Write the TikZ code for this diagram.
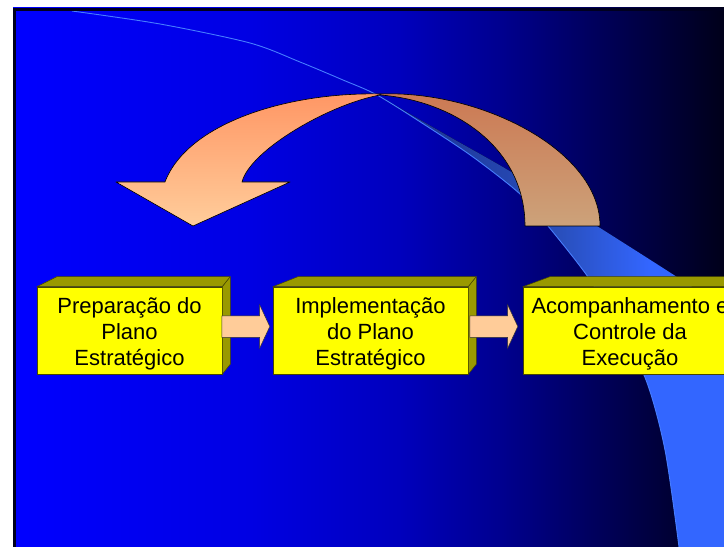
\documentclass[tikz,border=0pt]{standalone}
\usepackage{fontspec}
\setmainfont{Liberation Sans}
\usetikzlibrary{calc,shapes.arrows}

\definecolor{boxyellow}{RGB}{255,255,0}
\definecolor{boxolive}{RGB}{153,153,0}
\definecolor{boxedge}{RGB}{70,70,0}
\definecolor{peach}{RGB}{255,204,153}
\definecolor{orangetop}{RGB}{255,150,100}
\definecolor{orangebot}{RGB}{255,205,155}
\definecolor{browntop}{RGB}{204,120,82}
\definecolor{brownbot}{RGB}{204,162,122}
\definecolor{swooshline}{RGB}{70,125,255}
\definecolor{slideframe}{RGB}{0,0,30}

\pgfdeclarehorizontalshading{slidebg}{100bp}{rgb(0bp)=(0,0,1); rgb(25.2bp)=(0,0,1); rgb(41.7bp)=(0,0,0.89); rgb(52.2bp)=(0,0,0.74); rgb(59.3bp)=(0,0,0.56); rgb(66.3bp)=(0,0,0.35); rgb(75bp)=(0,0,0.1); rgb(100bp)=(0,0,0.1)}
\pgfdeclarehorizontalshading{swooshshade}{100bp}{rgb(0bp)=(0.1,0.18,0.55); rgb(25bp)=(0.1,0.18,0.55); rgb(49.9bp)=(0.16,0.31,0.74); rgb(62bp)=(0.2,0.4,1); rgb(100bp)=(0.2,0.4,1)}

\tikzset{
  boxface/.style={draw=boxedge, fill=boxyellow, line width=0.5bp, minimum height=87bp, inner sep=0pt},
  boxtext/.style={inner sep=0pt, font=\fontsize{22bp}{26bp}\selectfont, align=center, text=black},
  sideface/.style={draw=boxedge, fill=boxolive, line width=0.5bp, line join=round},
  blockarrow/.style={single arrow, draw=black!80, fill=peach, line width=0.5bp,
    minimum height=48bp, minimum width=43bp, inner xsep=0pt, inner ysep=10.5bp,
    single arrow head extend=11bp, single arrow tip angle=130},
  curvedarrow/.style={draw=black, line width=0.6bp, line join=round}
}

\begin{document}
\begin{tikzpicture}[x=1bp, y=-1bp]
\useasboundingbox (0,0) rectangle (724,547);

% slide background and swoosh
\begin{scope}
  \clip (13,8) rectangle (724,547);
  \fill[shading=slidebg] (13,8) rectangle (724,547);
  \fill[shading=swooshshade]
    plot[smooth] coordinates {(377,95) (425,125) (473,157) (520,194) (548,226) (588,277) (617,325) (646,380) (665,450) (679,547)}
    -- (745,547)
    -- plot[smooth] coordinates {(745,322) (677,277) (597,226) (513,173) (450,137) (377,95)}
    -- cycle;
  \draw[swooshline, line width=0.9bp]
    plot[smooth] coordinates {(72,11) (160,24) (250,43) (300,62) (343,80) (377,95) (425,125) (473,157) (520,194) (548,226) (588,277) (617,325) (646,380) (665,450) (679,547)};
\end{scope}
\draw[slideframe, line width=3bp] (14.5,600) -- (14.5,9.5) -- (800,9.5);

% curved return arrow
\filldraw[curvedarrow, top color=browntop, bottom color=brownbot]
  (380,94) .. controls (480,90) and (600,150) .. (600,226) -- (525,226)
  .. controls (525,145) and (450,100) .. (380,95) -- cycle;
\filldraw[curvedarrow, top color=orangetop, bottom color=orangebot]
  (165,182) .. controls (188,122) and (290,92) .. (380,94) -- (380,95)
  .. controls (330,104) and (250,150) .. (242,182) -- (290,182) -- (193,226) -- (116,182) -- cycle;

% boxes
\node[boxface, minimum width=185bp] (b1) at (129.5,330.5) {};
\node[boxface, minimum width=195bp] (b2) at (370.5,330.5) {};
\node[boxface, minimum width=214bp] (b3) at (630,330.5) {};

\filldraw[sideface] (b1.north west) -- ++(20,-10) -- ($(b1.north east)+(8,-10)$) -- (b1.north east) -- cycle;
\filldraw[sideface] (b1.north east) -- ++(8,-10) -- ($(b1.south east)+(8,-10)$) -- (b1.south east) -- cycle;
\filldraw[sideface] (b2.north west) -- ++(25,-10) -- ($(b2.north east)+(8,-10)$) -- (b2.north east) -- cycle;
\filldraw[sideface] (b2.north east) -- ++(8,-10) -- ($(b2.south east)+(8,-10)$) -- (b2.south east) -- cycle;
\filldraw[sideface] (b3.north west) -- ++(27,-10) -- ($(b3.north east)+(8,-10)$) -- (b3.north east) -- cycle;

\node[boxtext] (t1) at ($(b1.center)+(0,3)$) {Preparação do\\Plano\\Estratégico};
\node[boxtext] (t2) at ($(b2.center)+(0,3)$) {Implementação\\do Plano\\Estratégico};
\node[boxtext] (t3) at ($(b3.center)+(0,3)$) {Acompanhamento e\\Controle da\\Execução};

% block arrows between boxes
\node[blockarrow] (a1) at ($(b1.east)+(21,-4)$) {};
\node[blockarrow] (a2) at ($(b2.east)+(23,-4)$) {};
\end{tikzpicture}
\end{document}
